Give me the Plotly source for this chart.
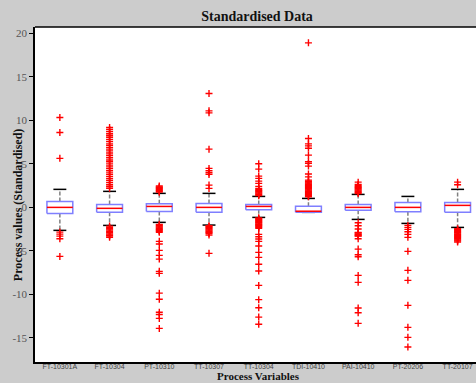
import plotly.graph_objects as go

# Process variables and standardised box-plot statistics
categories = ["FT-10301A", "FT-10304", "PT-10310", "TT-10307", "TT-10304",
              "TDI-10410", "PAI-10410", "PT-20206", "TT-20107"]
upper_whisker = [2.07, 1.84, 1.61, 1.61, 1.26, 1.03, 1.49, 1.26, 2.07]
q3 = [0.69, 0.34, 0.41, 0.46, 0.34, 0.13, 0.34, 0.57, 0.57]
median = [0.0, -0.11, 0.11, 0.0, 0.11, -0.44, 0.0, 0.0, 0.23]
q1 = [-0.69, -0.57, -0.46, -0.57, -0.27, -0.57, -0.34, -0.50, -0.57]
lower_whisker = [-2.64, -2.07, -1.72, -2.03, -1.15, -0.57, -1.38, -1.84, -2.30]

# Outlying observations for each variable
outliers_ft10301a = [10.33, 8.61, 5.63, -2.84, -3.07, -3.3, -3.6, -5.63]
outliers_ft10304 = [9.18, 8.95, 8.7, 8.45, 8.25, 8.05, 7.8, 7.55, 7.3, 7.1, 6.85, 6.6,
                    6.35, 6.15, 5.95, 5.7, 5.45, 5.25, 5.0, 4.75, 4.5, 4.25, 4.05, 3.8,
                    3.55, 3.3, 3.1, 2.85, 2.6, 2.4, 2.2,
                    -2.15, -2.3, -2.45, -2.6, -2.75, -2.9, -3.05, -3.2, -3.3, -3.44]
outliers_pt10310 = [1.75, 1.85, 1.95, 2.05, 2.15, 2.25, 2.35, 2.45,
                    -1.95, -2.05, -2.15, -2.25, -2.35, -2.45, -2.55, -2.65, -2.75, -2.87,
                    -3.9, -4.2, -4.94, -5.51, -5.94, -7.35, -7.58, -9.85, -10.55,
                    -12.05, -12.3, -12.75, -13.9]
outliers_tt10307 = [13.09, 11.09, 10.86, 6.69, 4.48, 4.2, 3.97, 3.79, 2.56, 2.18,
                    -2.11, -2.2, -2.3, -2.4, -2.5, -2.6, -2.7, -2.8, -2.9, -2.99,
                    -3.18, -5.28]
outliers_tt10304 = [5.01, 4.4, 3.59, 3.33, 3.02, 2.76, 2.41, 2.18, 2.05, 1.95, 1.85,
                    1.75, 1.65, 1.55, 1.45, 1.35,
                    -1.2, -1.3, -1.4, -1.5, -1.6, -1.7, -1.8, -1.9, -2.0, -2.1, -2.2,
                    -2.3, -2.41, -3.1, -3.37, -3.64, -3.9, -4.44, -5.17, -5.74, -6.54,
                    -7.31, -8.96, -10.6, -11.53, -12.6, -13.43]
outliers_tdi10410 = [18.9, 7.92, 7.3, 7.07, 6.8, 6.0, 5.24, 5.05, 4.74, 3.83, 3.5,
                     3.13, 3.0, 2.9, 2.8, 2.7, 2.6, 2.5, 2.4, 2.3, 2.2, 2.1, 2.0, 1.9,
                     1.8, 1.7, 1.6, 1.5, 1.4, 1.3, 1.22]
outliers_pai10410 = [2.9, 2.64, 2.52, 2.4, 2.3, 2.2, 2.1, 2.0, 1.9, 1.8, 1.7, 1.6,
                     -1.77, -2.11, -2.49, -2.87, -2.95, -3.05, -3.15, -3.25, -3.3,
                     -3.6, -4.79, -5.44, -5.67, -7.81, -8.61, -11.56, -12.1, -13.32]
outliers_pt20206 = [-2.07, -2.3, -2.53, -2.8, -3.1, -3.44, -5.05, -7.23, -8.38,
                    -11.25, -13.78, -14.93, -16.04]
outliers_tt20107 = [2.9, 2.6, -2.46, -2.55, -2.65, -2.75, -2.85, -2.95, -3.05, -3.15,
                    -3.25, -3.35, -3.45, -3.55, -3.65, -3.75, -3.85, -3.98]

outliers = [outliers_ft10301a, outliers_ft10304, outliers_pt10310, outliers_tt10307,
            outliers_tt10304, outliers_tdi10410, outliers_pai10410, outliers_pt20206,
            outliers_tt20107]

y_ticks = [-15, -10, -5, 0, 5, 10, 15, 20]
y_tick_labels = [str(v) for v in y_ticks]

positions = list(range(1, len(categories) + 1))
half_box = 0.26
half_cap = 0.13

box_x, box_y = [], []
med_x, med_y = [], []
stem_x, stem_y = [], []
cap_x, cap_y = [], []
out_x, out_y = [], []
for i, p in enumerate(positions):
    box_x += [p - half_box, p + half_box, p + half_box, p - half_box, p - half_box, None]
    box_y += [q1[i], q1[i], q3[i], q3[i], q1[i], None]
    med_x += [p - half_box, p + half_box, None]
    med_y += [median[i], median[i], None]
    stem_x += [p, p, None, p, p, None]
    stem_y += [q3[i], upper_whisker[i], None, q1[i], lower_whisker[i], None]
    cap_x += [p - half_cap, p + half_cap, None, p - half_cap, p + half_cap, None]
    cap_y += [upper_whisker[i], upper_whisker[i], None, lower_whisker[i], lower_whisker[i], None]
    out_x += [p] * len(outliers[i])
    out_y += outliers[i]

fig = go.Figure()
fig.add_trace(go.Scatter(x=stem_x, y=stem_y, mode="lines",
                         line=dict(color="#808080", width=1.5, dash="4px,2px"),
                         hoverinfo="skip"))
fig.add_trace(go.Scatter(x=cap_x, y=cap_y, mode="lines",
                         line=dict(color="black", width=1.5), hoverinfo="skip"))
fig.add_trace(go.Scatter(x=box_x, y=box_y, mode="lines", fill="toself",
                         fillcolor="white", line=dict(color="#7f7fff", width=1.5),
                         hoverinfo="skip"))
fig.add_trace(go.Scatter(x=med_x, y=med_y, mode="lines",
                         line=dict(color="red", width=1.5), hoverinfo="skip"))
fig.add_trace(go.Scatter(x=out_x, y=out_y, mode="markers",
                         marker=dict(symbol="cross-thin", size=5,
                                     line=dict(color="red", width=1.4)),
                         hoverinfo="y"))

serif = "Times New Roman, Liberation Serif, serif"
fig.update_layout(
    width=476, height=383,
    margin=dict(l=35, r=0, t=27, b=21),
    paper_bgcolor="#cccccc",
    plot_bgcolor="white",
    showlegend=False,
    title=dict(text="<b>Standardised Data</b>", x=0.54, xanchor="center",
               y=0.958, yanchor="middle",
               font=dict(family=serif, size=14, color="#111")),
    xaxis=dict(range=[0.5, 9.37], tickvals=positions, ticktext=categories,
               showgrid=False, zeroline=False, showline=True, linecolor="black",
               linewidth=1.5, ticks="", ticklen=0, ticklabelstandoff=-3,
               tickfont=dict(family="Liberation Sans, Arial, sans-serif", size=7,
                             color="#444")),
    yaxis=dict(range=[-17.76, 20.72], tickvals=y_ticks, ticktext=y_tick_labels,
               showgrid=False, zeroline=False, showline=True, linecolor="black",
               linewidth=1.5, ticks="outside", ticklen=4, tickcolor="black",
               tickfont=dict(family=serif, size=11, color="#555")),
    annotations=[
        dict(text="<b>Process Variables</b>", xref="paper", yref="paper",
             x=0.506, y=-0.0627, xanchor="center", yanchor="bottom", showarrow=False,
             borderpad=0, font=dict(family=serif, size=11, color="#111")),
        dict(text="<b>Process values (Standardised)</b>", xref="paper", yref="paper",
             x=-0.038, y=0.469, xanchor="center", yanchor="middle", textangle=-90,
             showarrow=False, font=dict(family=serif, size=12, color="#111")),
    ],
    shapes=[dict(type="line", xref="paper", yref="paper", x0=0, x1=1, y0=1, y1=1,
                 line=dict(color="black", width=1.5))],
)

fig.write_html("out.html")
